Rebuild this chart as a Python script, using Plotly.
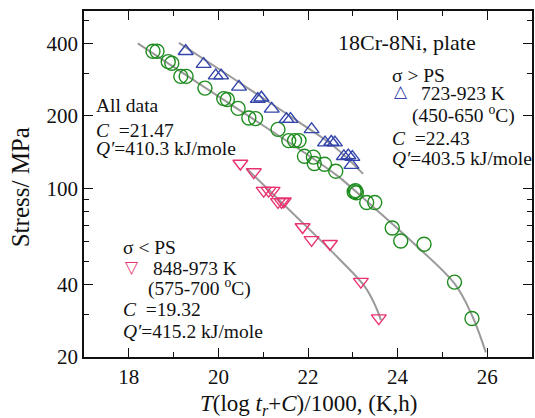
import plotly.graph_objects as go

# Larson-Miller parameter T(log t_r + C)/1000 and rupture stress (MPa)

# sigma > PS, 723-923 K
blue_x = [19.27, 19.67, 19.94, 20.06, 20.46, 20.88, 20.96, 21.19, 21.52, 21.61,
          22.08, 22.38, 22.52, 22.60, 22.80, 22.90, 22.99, 22.97]
blue_y = [371, 328, 294, 294, 264, 235, 238, 214, 194, 194,
          176, 155, 156, 155, 136, 137, 135, 125]

# sigma < PS, 848-973 K
red_x = [20.49, 20.79, 21.01, 21.12, 21.21, 21.33, 21.41, 21.46, 21.88, 22.08,
         22.49, 23.18, 23.58]
red_y = [127, 117, 98, 98, 98, 88, 88, 88.5, 69.2, 61.2,
         59.0, 41.1, 29.0]

# all data
green_x = [18.54, 18.63, 18.88, 18.96, 19.16, 19.28, 19.70, 20.12, 20.20, 20.44,
           20.68, 20.83, 21.33, 21.57, 21.70, 21.80, 21.92, 22.12, 22.14, 22.37,
           22.62, 23.03, 23.06, 23.08, 23.31, 23.49, 23.88, 24.07, 24.59, 25.27,
           25.66]
green_y = [371, 371, 336, 331, 292, 292, 261, 236, 234, 215,
           196, 195, 176, 158, 158, 158, 136, 135, 127, 126,
           118, 97, 98, 96, 87.5, 87.5, 68.6, 60.6, 58.7, 40.9,
           28.9]

# master curves
green_fit_x = [18.2, 20.06, 21.94, 22.68, 23.46, 24.38, 25.28, 25.66, 25.97]
green_fit_y = [400, 237, 140, 112, 83.6, 58.7, 40.1, 29.8, 20.9]
blue_fit_x = [19.12, 20.46, 21.79, 22.57, 23.23]
blue_fit_y = [402, 276, 189, 150, 115]
red_fit_x = [20.63, 21.66, 22.68, 23.28, 23.52, 23.63]
red_fit_y = [121, 79, 51.4, 38.9, 32.1, 28.4]

x_major = [18, 20, 22, 24, 26]
x_minor = [19, 21, 23, 25]
y_major = [20, 40, 100, 200, 400]
y_minor = [30, 50, 60, 70, 80, 90, 300, 500]

BLUE = "#3344aa"
RED = "#e8336f"
GREEN = "#1e8c1e"
GRAY = "#9a9a9a"
FONT = "Liberation Serif"

W, H = 535, 418
ML, MR, MT, MB = 84, 1, 11, 61

fig = go.Figure()

for fx, fy in [(green_fit_x, green_fit_y), (blue_fit_x, blue_fit_y), (red_fit_x, red_fit_y)]:
    fig.add_trace(go.Scatter(x=fx, y=fy, mode="lines",
                             line=dict(color=GRAY, width=2, shape="spline", smoothing=1.0),
                             hoverinfo="skip", showlegend=False))

fig.add_trace(go.Scatter(x=green_x, y=green_y, mode="markers",
                         marker=dict(symbol="circle-open", size=14, color=GREEN,
                                     line=dict(width=1.4, color=GREEN)),
                         showlegend=False))
fig.add_trace(go.Scatter(x=blue_x, y=blue_y, mode="markers",
                         marker=dict(symbol="triangle-up-open", size=13, color=BLUE,
                                     line=dict(width=1.4, color=BLUE)),
                         showlegend=False))
fig.add_trace(go.Scatter(x=red_x, y=red_y, mode="markers",
                         marker=dict(symbol="triangle-down-open", size=13, color=RED,
                                     line=dict(width=1.4, color=RED)),
                         showlegend=False))


def px(x):
    return (x - ML) / (W - ML - MR)


def py(y):
    return (H - MB - y) / (H - MT - MB)


def label(x, y, text, size=19.5, color="#111111", font=FONT):
    fig.add_annotation(x=px(x), y=py(y), xref="paper", yref="paper",
                       text=text, showarrow=False, xanchor="left", yanchor="middle",
                       font=dict(family=font, size=size, color=color))


label(337, 43, "18Cr-8Ni, plate", size=22)
label(391, 75, "σ > PS")
label(393, 91, "△", size=17, color=BLUE, font="DejaVu Sans")
label(420, 94, "723-923 K")
label(411, 115, "(450-650 <sup>o</sup>C)")
label(391, 138, "<i>C</i>\u00a0\u00a0=22.43")
label(391, 158, "<i>Q′</i>=403.5 kJ/mole")

label(94, 105, "All data")
label(94, 130, "<i>C</i>\u00a0\u00a0=21.47")
label(94, 148, "<i>Q′</i>=410.3 kJ/mole")

label(121, 247, "σ < PS")
label(123, 267, "▽", size=17, color=RED, font="DejaVu Sans")
label(151, 268, "848-973 K")
label(146, 287, "(575-700 <sup>o</sup>C)")
label(121, 309, "<i>C</i>\u00a0\u00a0=19.32")
label(121, 331, "<i>Q′</i>=415.2 kJ/mole")

# axis titles
fig.add_annotation(x=px(310), y=py(405), xref="paper", yref="paper", showarrow=False,
                   text="<i>T</i>(log <i>t<sub>r</sub></i>+<i>C</i>)/1000, (K,h)",
                   xanchor="center", yanchor="middle",
                   font=dict(family=FONT, size=23, color="#111111"))
fig.add_annotation(x=px(20), y=py(187), xref="paper", yref="paper", showarrow=False,
                   text="Stress/ MPa", textangle=-90,
                   xanchor="center", yanchor="middle",
                   font=dict(family=FONT, size=25, color="#111111"))

axis_common = dict(showline=True, linecolor="#111111", linewidth=1.5, mirror="allticks",
                   ticks="inside", tickcolor="#111111", tickwidth=1.3, ticklen=9,
                   showgrid=False, zeroline=False,
                   tickfont=dict(family=FONT, size=21, color="#111111"))

fig.update_xaxes(range=[17, 27], tickmode="array", tickvals=x_major,
                 ticktext=[str(v) for v in x_major],
                 minor=dict(tickmode="array", tickvals=x_minor, ticks="inside",
                            ticklen=5, tickwidth=1.3, tickcolor="#111111"),
                 **axis_common)
fig.update_yaxes(type="log", range=[1.30103, 2.7364], tickmode="array", tickvals=y_major,
                 ticktext=[str(v) for v in y_major],
                 minor=dict(tickmode="array", tickvals=y_minor, ticks="inside",
                            ticklen=5, tickwidth=1.3, tickcolor="#111111"),
                 **axis_common)

fig.update_layout(width=W, height=H, margin=dict(l=ML, r=MR, t=MT, b=MB),
                  paper_bgcolor="white", plot_bgcolor="white", showlegend=False)

fig.write_html("out.html")
